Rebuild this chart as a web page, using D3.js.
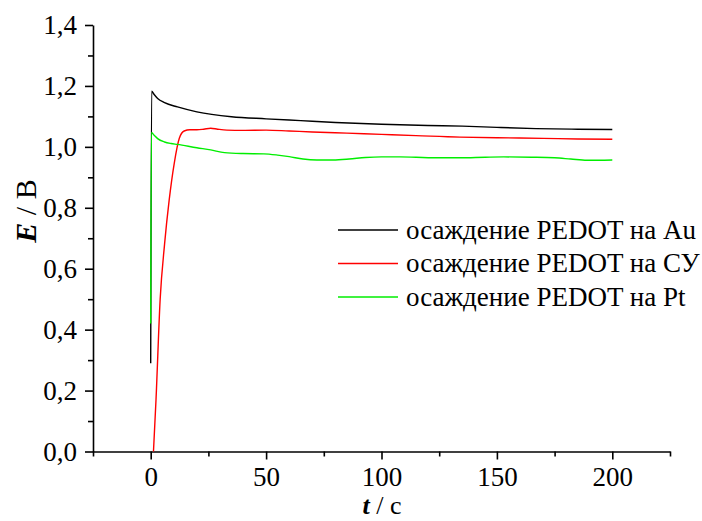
<!DOCTYPE html>
<html>
<head>
<meta charset="utf-8">
<script src="https://cdn.jsdelivr.net/npm/d3@7"></script>
<style>
  html, body { margin: 0; padding: 0; background: #fff; }
  svg { display: block; }
</style>
</head>
<body>
<svg id="chart" width="702" height="521"></svg>
<script>
// Potential transients during PEDOT electrodeposition on three substrates
const seriesNames = ["осаждение PEDOT на Au", "осаждение PEDOT на СУ", "осаждение PEDOT на Pt"];
const seriesColors = ["#000000", "#ff0000", "#00ee00"];

// time, s
const tAu = [0, 0.4, 1.5, 3, 6, 11.6, 20, 35, 50, 65, 80, 100, 120, 135, 150, 167, 185, 200];
const eAu = [0.29, 1.183, 1.172, 1.159, 1.145, 1.131, 1.115, 1.099, 1.092, 1.086, 1.080, 1.074, 1.070, 1.068, 1.064, 1.060, 1.058, 1.057];

const tCY = [1.2, 2.3, 4.1, 6, 8, 10.2, 12.4, 14.5, 17, 20, 23, 26, 29, 33, 40, 50, 60, 70, 85, 100, 115, 134, 150, 170, 185, 200];
const eCY = [0, 0.17, 0.50, 0.68, 0.825, 0.946, 1.028, 1.052, 1.056, 1.056, 1.058, 1.061, 1.058, 1.055, 1.054, 1.055, 1.052, 1.049, 1.045, 1.041, 1.037, 1.032, 1.030, 1.028, 1.026, 1.025];

const tPt = [0, 0.3, 1.5, 3, 6, 8.8, 11.6, 20, 26, 32, 40, 49, 55, 60, 66, 72, 79, 86, 93, 100, 108, 115, 122, 134, 145, 153, 165, 175, 182, 189, 200];
const ePt = [0.42, 1.047, 1.038, 1.027, 1.016, 1.011, 1.008, 0.997, 0.990, 0.981, 0.978, 0.977, 0.973, 0.968, 0.960, 0.957, 0.957, 0.960, 0.965, 0.967, 0.967, 0.966, 0.964, 0.964, 0.966, 0.967, 0.966, 0.964, 0.960, 0.956, 0.957];

const xMajorTicks = [0, 50, 100, 150, 200];
const xMinorTicks = [-25, 25, 75, 125, 175, 225];
const yMajorTicks = [0, 0.2, 0.4, 0.6, 0.8, 1.0, 1.2, 1.4];
const yMinorTicks = [0.1, 0.3, 0.5, 0.7, 0.9, 1.1, 1.3];

const FONT = "'Liberation Serif', 'Times New Roman', Tinos, serif";

const svg = d3.select("#chart");

const x = d3.scaleLinear().domain([-25, 225]).range([93, 670]);
const y = d3.scaleLinear().domain([0, 1.4]).range([451.5, 25]);

const fmt = v => d3.format(".1f")(v).replace(".", ",");

// X axis: major ticks with labels, minor ticks without
const xAxisG = svg.append("g").attr("transform", `translate(0,${y(0)})`);
xAxisG.call(d3.axisBottom(x).tickValues(xMajorTicks).tickSize(8).tickSizeOuter(0).tickPadding(7).tickFormat(d3.format("d")));
xAxisG.append("g").call(d3.axisBottom(x).tickValues(xMinorTicks).tickSize(5).tickSizeOuter(0).tickFormat(""))
  .select(".domain").remove();

// Y axis
const yAxisG = svg.append("g").attr("transform", `translate(${x(-25)},0)`);
yAxisG.call(d3.axisLeft(y).tickValues(yMajorTicks).tickSize(8).tickSizeOuter(0).tickPadding(8).tickFormat(fmt));
yAxisG.append("g").call(d3.axisLeft(y).tickValues(yMinorTicks).tickSize(5).tickSizeOuter(0).tickFormat(""))
  .select(".domain").remove();

svg.selectAll(".domain").attr("stroke", "#000").attr("stroke-width", 1.6);
svg.selectAll(".tick line").attr("stroke", "#000").attr("stroke-width", 1.6);
svg.selectAll(".tick text")
  .style("font-family", FONT).style("font-size", "27px").attr("fill", "#000");
yAxisG.selectAll(".tick text").attr("dy", "0.32em");

// Curves
const line = d3.line().x(d => x(d[0])).y(d => y(d[1])).curve(d3.curveMonotoneX);
const series = [
  d3.zip(tAu, eAu),
  d3.zip(tCY, eCY),
  d3.zip(tPt, ePt)
];
series.forEach((s, i) => {
  svg.append("path")
    .datum(s)
    .attr("fill", "none")
    .attr("stroke", seriesColors[i])
    .attr("stroke-width", 1.4)
    .attr("stroke-linejoin", "round")
    .attr("d", line);
});

// Legend
const legend = svg.append("g");
const legendRows = [230, 263.5, 297];
seriesNames.forEach((name, i) => {
  legend.append("line")
    .attr("x1", 338).attr("x2", 398)
    .attr("y1", legendRows[i]).attr("y2", legendRows[i])
    .attr("stroke", seriesColors[i]).attr("stroke-width", 1.4);
  legend.append("text")
    .attr("x", 406).attr("y", legendRows[i])
    .attr("dy", "0.33em")
    .style("font-family", FONT).style("font-size", "27px")
    .attr("fill", "#000")
    .text(name);
});

// Axis titles
const xTitle = svg.append("text")
  .attr("x", 382).attr("y", 514)
  .attr("text-anchor", "middle")
  .style("font-family", FONT).style("font-size", "26px");
xTitle.append("tspan").style("font-weight", "bold").style("font-style", "italic").text("t");
xTitle.append("tspan").text(" / с");

const yTitle = svg.append("text")
  .attr("transform", "translate(36,211) rotate(-90)")
  .attr("text-anchor", "middle")
  .style("font-family", FONT).style("font-size", "30px");
yTitle.append("tspan").style("font-weight", "bold").style("font-style", "italic").text("E");
yTitle.append("tspan").text(" / В");
</script>
</body>
</html>
